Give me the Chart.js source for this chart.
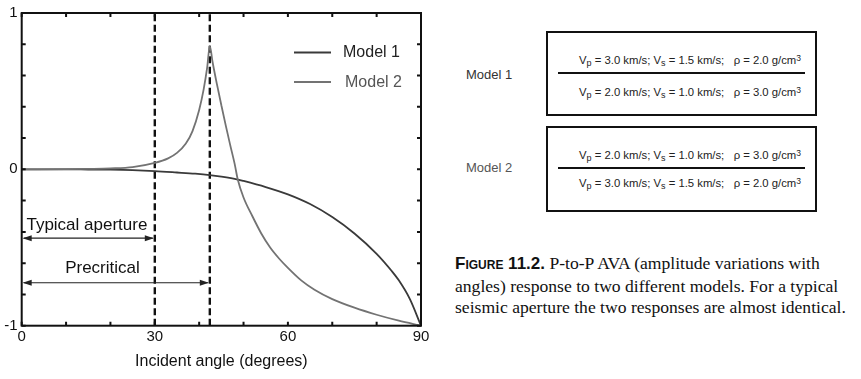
<!DOCTYPE html>
<html>
<head>
<meta charset="utf-8">
<script src="https://cdn.jsdelivr.net/npm/chart.js@4/dist/chart.umd.min.js"></script>
<style>
  html, body { margin:0; padding:0; background:#fff; }
  body { width:861px; height:379px; position:relative; overflow:hidden; font-family:"Liberation Sans", Arial, sans-serif; color:#111; }
  #wrap { position:absolute; left:0; top:0; width:440px; height:379px; }
  .box { position:absolute; border:2px solid #111; box-sizing:border-box; }
  .rule { position:absolute; height:2px; background:#111; }
  .eq { position:absolute; font-size:11.3px; line-height:14px; text-align:right; width:250px; color:#222; white-space:nowrap; }
  .eq sub { font-size:9px; vertical-align:-2px; line-height:0; }
  .eq sup { font-size:8.5px; vertical-align:3px; line-height:0; }
  .mlab { position:absolute; font-size:13px; line-height:16px; white-space:nowrap; }
  .cap { position:absolute; left:455px; font-family:"Liberation Serif","Times New Roman",serif; font-size:17.6px; line-height:22px; color:#111; white-space:nowrap; }
  .cap b { font-family:"Liberation Sans", Arial, sans-serif; font-variant:small-caps; font-weight:bold; font-size:17px; }
</style>
</head>
<body>
<div id="wrap"><canvas id="c" width="440" height="379"></canvas></div>

<div class="mlab" style="left:466px; top:67px; color:#333;">Model 1</div>
<div class="mlab" style="left:466px; top:160px; color:#555;">Model 2</div>

<div class="box" style="left:546px; top:31px; width:271px; height:85px;"></div>
<div class="eq" style="left:551px; top:53px;">V<sub>p</sub> = 3.0 km/s; V<sub>s</sub> = 1.5 km/s;&nbsp;&nbsp; ρ = 2.0 g/cm<sup>3</sup></div>
<div class="rule" style="left:558px; top:72px; width:247px;"></div>
<div class="eq" style="left:551px; top:85px;">V<sub>p</sub> = 2.0 km/s; V<sub>s</sub> = 1.0 km/s;&nbsp;&nbsp; ρ = 3.0 g/cm<sup>3</sup></div>

<div class="box" style="left:546px; top:126px; width:271px; height:86px;"></div>
<div class="eq" style="left:551px; top:148px;">V<sub>p</sub> = 2.0 km/s; V<sub>s</sub> = 1.0 km/s;&nbsp;&nbsp; ρ = 3.0 g/cm<sup>3</sup></div>
<div class="rule" style="left:558px; top:167px; width:247px;"></div>
<div class="eq" style="left:551px; top:176px;">V<sub>p</sub> = 3.0 km/s; V<sub>s</sub> = 1.5 km/s;&nbsp;&nbsp; ρ = 2.0 g/cm<sup>3</sup></div>

<div class="cap" style="top:252px;"><b>Figure 11.2.</b> P-to-P AVA (amplitude variations with</div>
<div class="cap" style="top:274.5px;">angles) response to two different models. For a typical</div>
<div class="cap" style="top:296px;">seismic aperture the two responses are almost identical.</div>

<script>
// ---- data ----
const model1Angles = [0, 10, 15, 20, 25, 30, 35, 39.1, 42.4, 45, 48.7, 50, 55, 60, 65, 70, 75, 80, 83.4, 85, 87.5, 90];
const model1Values = [0, 0, -0.001, -0.002, -0.005, -0.011, -0.02, -0.028, -0.037, -0.047, -0.065, -0.074, -0.113, -0.16, -0.222, -0.305, -0.41, -0.54, -0.65, -0.71, -0.83, -1];

const model2Angles = [0, 10, 15, 20, 25, 30, 33, 35, 37, 38.5, 40, 41, 41.8, 42.4, 43, 44, 45, 46, 47, 48, 48.7, 50, 52, 54, 56, 58, 60, 63, 66, 70, 75, 80, 85, 90];
const model2Values = [0, 0.001, 0.003, 0.006, 0.014, 0.041, 0.07, 0.105, 0.165, 0.245, 0.38, 0.51, 0.65, 0.79, 0.69, 0.545, 0.41, 0.28, 0.155, 0.035, -0.065, -0.18, -0.30, -0.41, -0.50, -0.57, -0.63, -0.71, -0.77, -0.83, -0.885, -0.93, -0.968, -1];

const seriesNames = ['Model 1', 'Model 2'];
const seriesColors = ['#3a3a3a', '#737373'];

const markerAngles = [30, 42.4];          // dashed verticals (typical aperture, critical angle)
const arrowLabels = ['Typical aperture', 'Precritical'];
const arrowStarts = [0, 0];
const arrowEnds = [30, 42.4];
const arrowLevels = [-0.44, -0.725];
const arrowLabelX = [14.7, 18.2];
const arrowLabelY = [-0.356, -0.63];

const xTickLabels = [0, 30, 60, 90];
const yTickLabels = [-1, 0, 1];
const xTitle = 'Incident angle (degrees)';

// ---- build datasets ----
function pts(xs, ys) { return xs.map((x, i) => ({ x: x, y: ys[i] })); }

const datasets = [
  { label: seriesNames[1], data: pts(model2Angles, model2Values), borderColor: seriesColors[1], borderWidth: 1.8, pointRadius: 0, cubicInterpolationMode: 'monotone', fill: false },
  { label: seriesNames[0], data: pts(model1Angles, model1Values), borderColor: seriesColors[0], borderWidth: 1.8, pointRadius: 0, cubicInterpolationMode: 'monotone', fill: false }
];
markerAngles.forEach(a => {
  datasets.push({ label: 'marker', data: [{ x: a, y: -1 }, { x: a, y: 1 }], borderColor: '#111', borderWidth: 2.4, borderDash: [7, 3.5], pointRadius: 0, fill: false });
});

const framePlugin = {
  id: 'frame',
  afterDatasetsDraw(chart) {
    const ctx = chart.ctx, a = chart.chartArea;
    const xs = chart.scales.x, ys = chart.scales.y;
    ctx.save();
    // arrows
    ctx.strokeStyle = '#222'; ctx.fillStyle = '#222'; ctx.lineWidth = 1.1;
    arrowLabels.forEach((lab, i) => {
      const x0 = xs.getPixelForValue(arrowStarts[i]), x1 = xs.getPixelForValue(arrowEnds[i]);
      const y = ys.getPixelForValue(arrowLevels[i]);
      ctx.beginPath(); ctx.moveTo(x0 + 2, y); ctx.lineTo(x1 - 2, y); ctx.stroke();
      const hl = 9, hw = 3;
      ctx.beginPath(); ctx.moveTo(x0 + 1, y); ctx.lineTo(x0 + 1 + hl, y - hw); ctx.lineTo(x0 + 1 + hl, y + hw); ctx.closePath(); ctx.fill();
      ctx.beginPath(); ctx.moveTo(x1 - 1, y); ctx.lineTo(x1 - 1 - hl, y - hw); ctx.lineTo(x1 - 1 - hl, y + hw); ctx.closePath(); ctx.fill();
      ctx.font = '17px "Liberation Sans", Arial, sans-serif';
      ctx.fillStyle = '#111'; ctx.textAlign = 'center'; ctx.textBaseline = 'middle';
      ctx.fillText(lab, xs.getPixelForValue(arrowLabelX[i]), ys.getPixelForValue(arrowLabelY[i]));
      ctx.fillStyle = '#222';
    });
    // frame
    ctx.strokeStyle = '#111'; ctx.lineWidth = 2;
    ctx.strokeRect(a.left, a.top, a.right - a.left, a.bottom - a.top);
    // inward ticks
    const tl = 4;
    ctx.beginPath();
    xs.ticks.forEach((t, i) => {
      const px = xs.getPixelForTick(i);
      ctx.moveTo(px, a.bottom); ctx.lineTo(px, a.bottom - tl);
      ctx.moveTo(px, a.top); ctx.lineTo(px, a.top + tl);
    });
    ys.ticks.forEach((t, i) => {
      const py = ys.getPixelForTick(i);
      ctx.moveTo(a.left, py); ctx.lineTo(a.left + tl, py);
      ctx.moveTo(a.right, py); ctx.lineTo(a.right - tl, py);
    });
    ctx.stroke();
    // legend
    ctx.font = '16px "Liberation Sans", Arial, sans-serif';
    ctx.textAlign = 'left'; ctx.textBaseline = 'middle';
    const legY = [52.5, 82];
    const legTextX = [343, 345];
    [0, 1].forEach(i => {
      ctx.strokeStyle = seriesColors[i]; ctx.lineWidth = 1.8;
      ctx.beginPath(); ctx.moveTo(294, legY[i]); ctx.lineTo(331, legY[i]); ctx.stroke();
      ctx.fillStyle = i === 0 ? '#222' : '#555';
      ctx.fillText(seriesNames[i], legTextX[i], legY[i] + 0.5);
    });
    ctx.restore();
  }
};

new Chart(document.getElementById('c'), {
  type: 'line',
  data: { datasets: datasets },
  options: {
    responsive: false,
    animation: false,
    layout: { padding: { top: 10.7, right: 19, left: 0, bottom: 0 } },
    plugins: { legend: { display: false }, tooltip: { enabled: false } },
    scales: {
      x: {
        type: 'linear', min: 0, max: 90,
        grid: { display: false, drawTicks: false }, border: { display: false },
        ticks: {
          stepSize: 10, autoSkip: false, maxRotation: 0, padding: 2,
          color: '#111', font: { family: '"Liberation Sans", Arial, sans-serif', size: 15 },
          callback: v => (xTickLabels.includes(Math.round(v)) && Math.abs(v - Math.round(v)) < 1e-6) ? String(Math.round(v)) : ''
        },
        title: { display: true, text: xTitle, color: '#111', font: { family: '"Liberation Sans", Arial, sans-serif', size: 16 }, padding: { top: 0, bottom: 8 } },
        afterFit: s => { s.height = 379 - 325.7; }
      },
      y: {
        type: 'linear', min: -1, max: 1,
        grid: { display: false, drawTicks: false }, border: { display: false },
        ticks: {
          stepSize: 0.2, autoSkip: false, padding: 4,
          color: '#111', font: { family: '"Liberation Sans", Arial, sans-serif', size: 15 },
          callback: v => { const r = Math.round(v); return (Math.abs(v - r) < 1e-6 && yTickLabels.includes(r)) ? String(r) : ''; }
        },
        afterFit: s => { s.width = 21.7; }
      }
    }
  },
  plugins: [framePlugin]
});
</script>
</body>
</html>
